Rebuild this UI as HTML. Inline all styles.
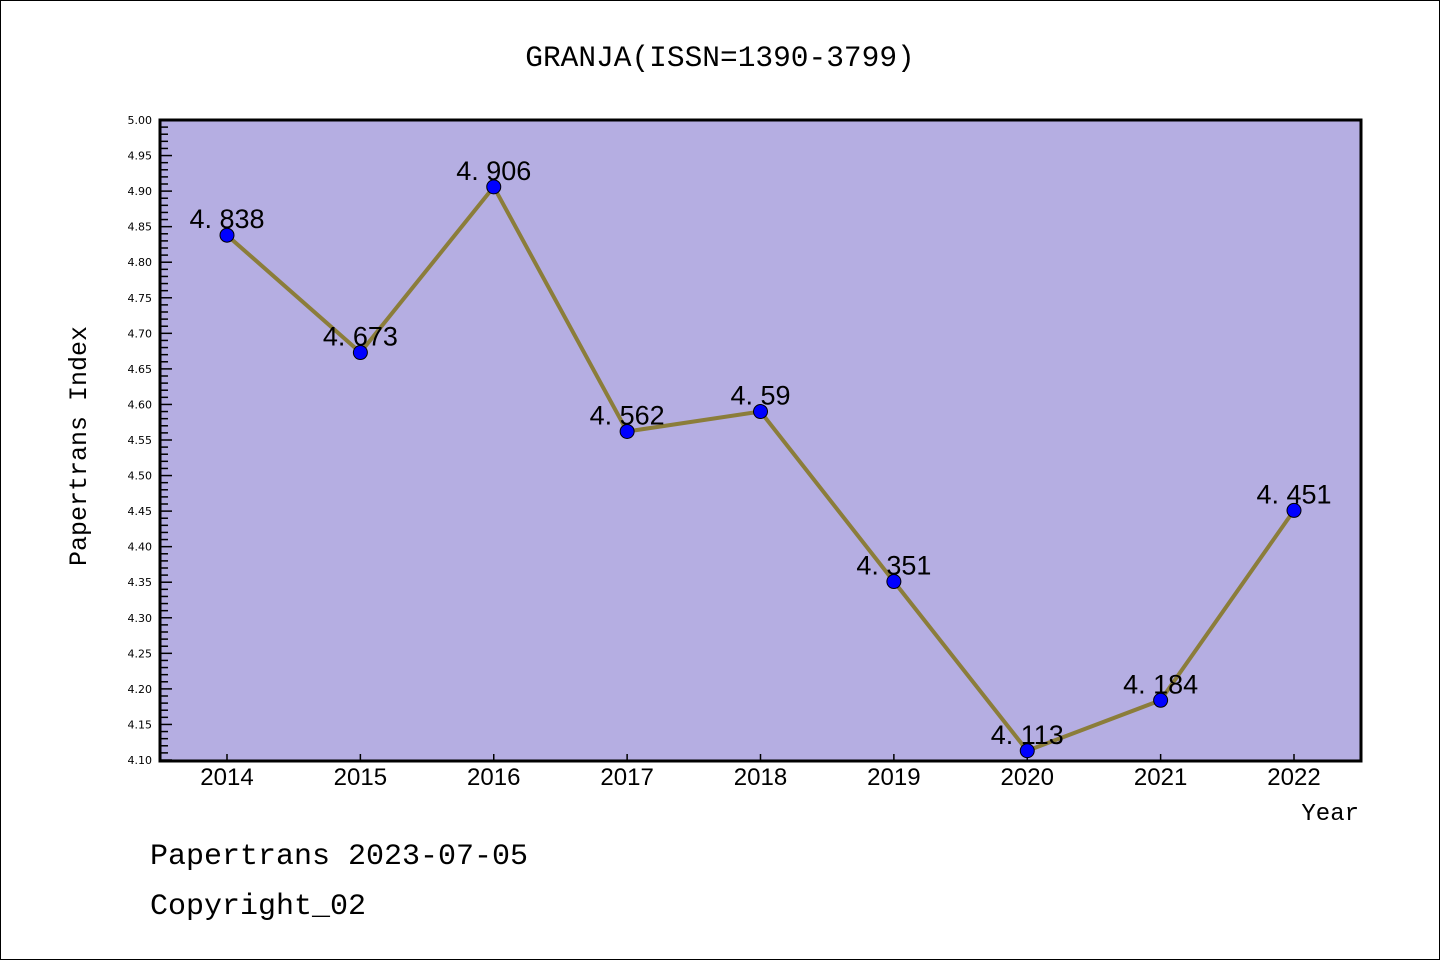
<!DOCTYPE html>
<html><head><meta charset="utf-8"><style>
body{margin:0;background:#fff}
svg{display:block}
text{font-family:"Liberation Mono","DejaVu Sans Mono","Noto Sans CJK SC",monospace}
</style></head><body>
<svg width="1440" height="960" viewBox="0 0 1440 960">
<rect x="0.5" y="0.5" width="1439" height="959" fill="#fff" stroke="#000"/>
<text x="720" y="66" text-anchor="middle" font-size="29.5">GRANJA(ISSN=1390-3799)</text>
<rect x="160" y="120" width="1201" height="641" fill="#b5aee2"/>
<g id="yaxis"></g>
<g id="xaxis"></g>
<g id="series"></g>
<rect x="160" y="120" width="1201" height="641" fill="none" stroke="#000" stroke-width="3"/>
<text x="86" y="446" text-anchor="middle" font-size="25" transform="rotate(-90 86 446)">Papertrans Index</text>
<text x="1359" y="820" text-anchor="end" font-size="24">Year</text>
<text x="150" y="864" font-size="30">Papertrans 2023-07-05</text>
<text x="150" y="914" font-size="30">Copyright_02</text>
</svg>
<script>
const years=["2014","2015","2016","2017","2018","2019","2020","2021","2022"];
const values=[4.838,4.673,4.906,4.562,4.59,4.351,4.113,4.184,4.451];
const labels=["4.838","4.673","4.906","4.562","4.59","4.351","4.113","4.184","4.451"];
const yTicks=["4.10","4.15","4.20","4.25","4.30","4.35","4.40","4.45","4.50","4.55","4.60","4.65","4.70","4.75","4.80","4.85","4.90","4.95","5.00"];
const NS="http://www.w3.org/2000/svg";
const yMin=4.10,yMax=5.00,yTop=120,yBot=760;
const y=v=>yBot-(v-yMin)/(yMax-yMin)*(yBot-yTop);
const x=i=>227+i*(1294-227)/(years.length-1);
function mk(t,a,p){const e=document.createElementNS(NS,t);for(const k in a)e.setAttribute(k,a[k]);p.appendChild(e);return e;}
const ya=document.getElementById('yaxis'),xa=document.getElementById('xaxis'),se=document.getElementById('series');
for(let k=0;k<=90;k++){const v=yMin+k*0.01;const major=k%5===0;
 const l=mk('line',{x1:160,x2:major?172:168,y1:y(v),y2:y(v),stroke:'#000','stroke-width':1.5},ya);
 
 }
yTicks.forEach(s=>{const t=mk('text',{x:152,y:y(parseFloat(s))+4,'text-anchor':'end','font-size':11,style:'font-family:"DejaVu Sans",sans-serif'},ya);t.textContent=s;
 
 });
years.forEach((s,i)=>{const l=mk('line',{x1:x(i),x2:x(i),y1:761,y2:754,stroke:'#000','stroke-width':1.5},xa);
 
 
 const t=mk('text',{x:x(i),y:785,'text-anchor':'middle','font-size':24,style:'font-family:"Liberation Sans",sans-serif'},xa);t.textContent=s;
 
 });
const pl=mk('polyline',{points:values.map((v,i)=>x(i)+','+y(v)).join(' '),fill:'none',stroke:'#8b7d3a','stroke-width':4},se);


values.forEach((v,i)=>{const c=mk('circle',{cx:x(i),cy:y(v),r:7,fill:'#0000ff',stroke:'#000','stroke-width':1},se);
 
 
 const t=mk('text',{x:x(i),y:y(v)-7,'text-anchor':'middle','font-size':27,style:'font-family:"Liberation Sans",sans-serif'},se);t.textContent=labels[i].replace('.','. ');
 
 });
</script>
</body></html>
